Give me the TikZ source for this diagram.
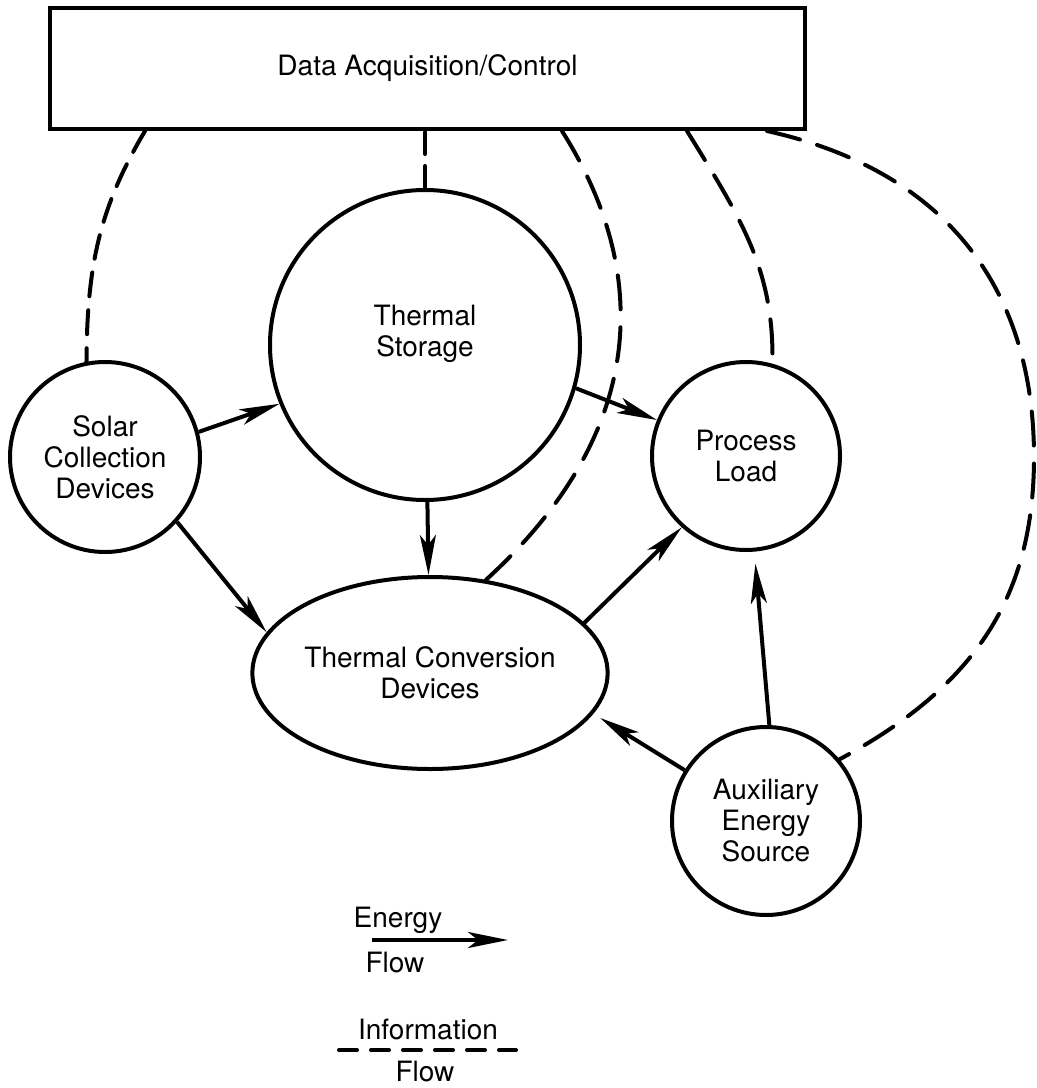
\documentclass[tikz,border=0pt]{standalone}
\usepackage{fontspec}
\setmainfont{TeX Gyre Heros}
\usetikzlibrary{arrows.meta,shapes.geometric,calc}
\begin{document}
\begin{tikzpicture}[x=0.5pt,y=-0.5pt,
  every node/.style={font=\fontsize{14}{15.5}\selectfont, align=center, inner sep=0pt},
  blk/.style={draw, line width=2pt},
  circ/.style={blk, circle},
  energy/.style={line width=2pt, -{Stealth[length=20pt,width=8pt,inset=5pt]}},
  info/.style={line width=2pt, line cap=round, dash pattern=on 17pt off 9pt},
]
\useasboundingbox (0,0) rectangle (1037,1088);

% nodes
\node[blk, minimum width=377.5pt, minimum height=60.5pt] (rect) at (427.5,68.5) {Data Acquisition/Control};
\node[circ, minimum size=95pt] (solar) at (105,457) {Solar\\Collection\\Devices};
\node[circ, minimum size=155pt] (storage) at (425,345) {};
\node (storagetext) at (425,334) {Thermal\\Storage};
\node[circ, minimum size=94pt] (proc) at (746,456) {Process\\Load};
\node[blk, ellipse, minimum width=167pt, minimum height=96pt] (conv) at (430,673) {Thermal Conversion\\Devices};
\node[circ, minimum size=94pt] (aux) at (766,821) {Auxiliary\\Energy\\Source};

% energy flow
\draw[energy] (solar.15) -- (storage.202);
\draw[energy] (solar.-42) -- (conv.166);
\draw[energy] (storage) -- (conv);
\draw[energy] (storage.-16) -- (proc.158);
\draw[energy] (conv.18) -- (proc.228);
\draw[energy, shorten >=6pt] (aux.88) -- (proc.-85);
\draw[energy, shorten >=4pt] (aux.148) -- (conv.-14);

% information flow
\coordinate (r1) at ($(rect.south west)+(97,0)$);
\coordinate (r3) at ($(rect.south west)+(514,0)$);
\coordinate (r4) at ($(rect.south west)+(639,0)$);
\coordinate (r5) at ($(rect.south west)+(719,0)$);
\coordinate (arcR) at (1034,457);
\draw[info, dash pattern=on 12pt off 7pt] (r1) .. controls (98,210) and (87,269) .. (solar.101);
\draw[info, dash pattern=on 11pt off 6pt] (storage.north) -- (storage.north |- rect.south);
\draw[info] (r3) .. controls (650,270) and (650,430) .. (conv.59);
\draw[info] (r4) .. controls (742,220) and (774,270) .. (proc.74);
\draw[info] (r5) .. controls (942.5,170) and (1034,285) .. (arcR)
  .. controls (1034,596) and (975.8,686) .. (aux.40);

% legend
\node (lenergy) at (398,920) {Energy};
\coordinate (la1) at (372,940);
\coordinate (la2) at (508,940);
\draw[energy] (la1) -- (la2);
\node (lflow1) at (395,962) {Flow};
\node (linfo) at (428,1029) {Information};
\coordinate (li1) at (339,1050);
\coordinate (li2) at (516,1050);
\draw[info, dash pattern=on 9pt off 7pt] (li1) -- (li2);
\node (lflow2) at (425,1071) {Flow};
\end{tikzpicture}
\end{document}
